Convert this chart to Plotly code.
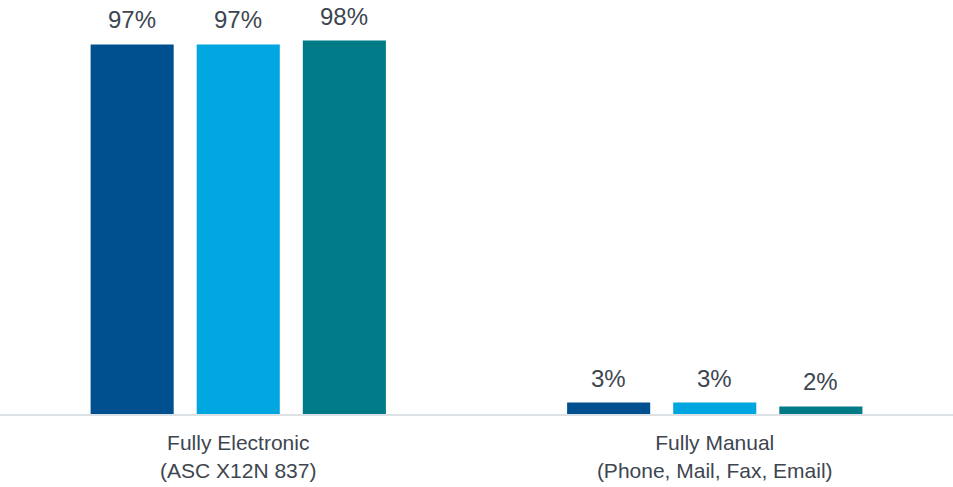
import plotly.graph_objects as go

# Claim submission method shares, three groups per category
categories = ["Fully Electronic<br>(ASC X12N 837)", "Fully Manual<br>(Phone, Mail, Fax, Email)"]
series_a = [97, 3]
series_b = [97, 3]
series_c = [98, 2]
series_names = ["Series A", "Series B", "Series C"]
colors = ["#00508F", "#00A6DF", "#007A87"]

all_series = [series_a, series_b, series_c]

FONT = "Liberation Sans, Arial, sans-serif"
TEXT_COLOR = "#3D4650"
BARGAP = 0.332
BARGROUPGAP = 0.217

fig = go.Figure()
for name, vals, col in zip(series_names, all_series, colors):
    fig.add_trace(go.Bar(
        x=categories, y=vals, name=name,
        marker=dict(color=col, line=dict(width=0)),
        hoverinfo="skip",
    ))

# value labels above each bar, offset to the bar's slot within the group
slot = (1 - BARGAP) / len(all_series)
annotations = []
for k, vals in enumerate(all_series):
    offset = (k - (len(all_series) - 1) / 2) * slot
    for i, v in enumerate(vals):
        annotations.append(dict(
            x=i + offset, y=v, xref="x", yref="y",
            text=f"{v}%", showarrow=False,
            yanchor="bottom", yshift=9,
            font=dict(family=FONT, size=24, color=TEXT_COLOR),
        ))

fig.update_layout(
    width=953, height=487,
    margin=dict(l=0, r=0, t=33, b=73),
    paper_bgcolor="white", plot_bgcolor="white",
    barmode="group", bargap=BARGAP, bargroupgap=BARGROUPGAP,
    showlegend=False,
    annotations=annotations,
    font=dict(family=FONT, color=TEXT_COLOR),
)
fig.update_xaxes(
    showline=True, linecolor="#DCE1E6", linewidth=2,
    showgrid=False, ticks="", ticklabelstandoff=9,
    tickfont=dict(family=FONT, size=21, color=TEXT_COLOR),
)
fig.update_yaxes(
    range=[0, 100], visible=False, showgrid=False, zeroline=False,
)

fig.write_html("out.html")
